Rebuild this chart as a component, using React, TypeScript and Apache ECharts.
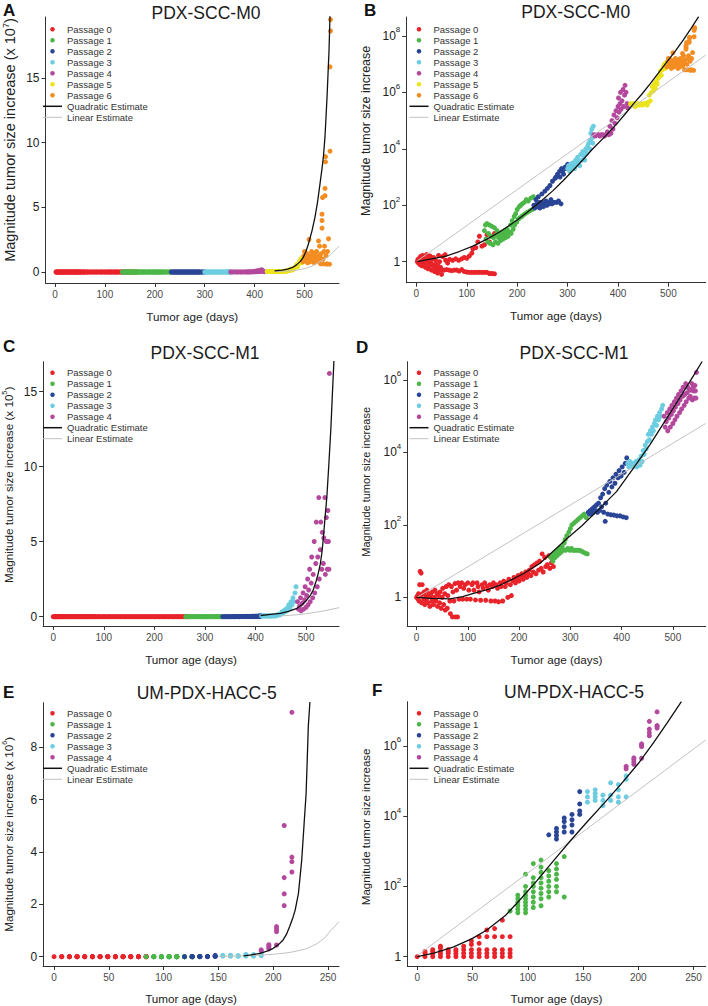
import React, { useEffect, useRef } from 'react';
import * as echarts from 'echarts';

const FONT = '"Liberation Sans", Arial, Helvetica, sans-serif';
const PASSAGE_COLORS = ['#e8232a', '#4cb748', '#2b4596', '#6ccde0', '#b4489c', '#ece41c', '#f38d22'];
const QUAD_COLOR = '#111111';
const LIN_COLOR = '#c2c2c2';

// ---- tick labels ----
const xTicksLong = [0, 100, 200, 300, 400, 500];
const xTicksShort = [0, 50, 100, 150, 200, 250];
const yTicksA = [0, 5, 10, 15];
const yTicksC = [0, 5, 10, 15];
const yTicksE = [0, 2, 4, 6, 8];
const yTicksB = [0, 2, 4, 6, 8];
const yTicksD = [0, 2, 4, 6];
const yTicksF = [0, 2, 4, 6];

// ---- PDX-SCC-M0 : [day, log10(magnitude)] ----
const m0P0 = [[2,0],[3,0.08],[4,-0.05],[6,0.12],[7,-0.1],[8,0.18],[10,0.02],[11,-0.15],[12,0.22],[14,-0.02],[15,-0.12],[16,0.1],[18,-0.2],[19,0.05],[20,0.25],[22,-0.05],[23,-0.25],[24,0.12],[26,-0.15],[27,0.2],[28,0],[30,-0.3],[31,0.1],[32,-0.1],[34,0.15],[35,-0.2],[36,-0.35],[38,0.05],[39,-0.1],[40,-0.25],[42,-0.4],[43,-0.15],[44,0.22],[45,-0.3],[46,0],[48,-0.2],[50,-0.45],[51,-0.3],[52,0.18],[55,-0.3],[57,0.25],[58,0.05],[60,-0.28],[62,-0.05],[65,-0.3],[66,0.08],[70,-0.32],[72,0.05],[75,-0.3],[78,0.1],[80,-0.3],[84,0.05],[85,-0.33],[90,0.1],[90,-0.28],[95,0.15],[95,-0.35],[100,0.12],[100,-0.37],[105,0.2],[105,-0.38],[110,0.3],[110,-0.38],[112,0.45],[115,-0.38],[118,0.5],[120,-0.38],[122,0.7],[125,0.9],[125,-0.38],[130,0.55],[130,-0.38],[135,0.6],[135,-0.38],[140,0.95],[140,-0.38],[145,0.7],[145,-0.42],[150,0.9],[150,-0.42],[155,1.0],[155,-0.43],[160,1.05],[165,1.0]];
const m0P1 = [[135,1.1],[137,1.3],[138,0.8],[140,1.35],[142,0.7],[143,1.0],[145,1.3],[146,0.65],[148,0.9],[150,1.25],[152,0.6],[153,0.85],[155,1.2],[157,0.7],[158,0.95],[160,1.1],[162,0.65],[163,0.85],[165,1.0],[167,0.75],[168,0.9],[170,1.05],[172,0.8],[174,0.95],[175,1.1],[177,0.85],[179,1.0],[180,1.15],[182,0.9],[185,1.05],[187,1.3],[188,1.0],[190,1.45],[192,1.15],[194,1.6],[195,1.3],[197,1.7],[199,1.4],[200,1.85],[202,1.5],[204,1.95],[205,1.55],[207,2.0],[209,1.6],[210,2.05],[212,1.65],[214,2.1],[216,1.7],[218,2.2],[220,1.75],[222,2.15],[225,1.8],[227,2.25],[230,1.85],[232,2.3]];
const m0P2 = [[233,2.0],[235,1.9],[237,2.2],[239,2.05],[240,1.95],[242,2.3],[244,2.1],[245,1.9],[247,2.0],[249,2.4],[250,2.1],[252,1.95],[254,2.05],[255,2.5],[257,2.15],[259,2.0],[260,2.6],[262,2.1],[264,2.05],[265,2.7],[267,2.2],[269,2.05],[270,2.85],[272,2.1],[274,2.1],[275,2.95],[277,3.0],[279,2.1],[280,3.1],[282,2.15],[284,3.2],[285,3.0],[287,2.05],[288,3.3],[290,3.2],[292,3.1],[295,3.35],[297,3.3],[300,3.45]];
const m0P3 = [[300,3.3],[302,3.4],[304,3.2],[306,3.45],[308,3.3],[310,3.5],[312,3.4],[314,3.3],[316,3.6],[318,3.45],[320,3.7],[322,3.55],[324,3.4],[326,3.8],[328,3.6],[330,3.9],[332,3.75],[334,3.6],[336,4.0],[338,3.85],[340,4.1],[342,4.2],[344,4.0],[345,4.3],[346,4.55],[348,4.7],[349,4.4],[350,4.2],[351,4.8]];
const m0P4 = [[352,4.5],[355,4.45],[358,4.5],[361,4.5],[364,4.45],[367,4.5],[370,4.5],[373,4.45],[376,4.5],[379,4.6],[382,4.5],[384,4.8],[386,4.55],[388,5.0],[390,4.7],[392,5.2],[394,4.9],[396,5.35],[398,5.1],[400,5.5],[401,5.8],[402,5.3],[404,5.6],[405,6.0],[406,5.4],[408,5.7],[410,6.1],[411,5.5],[413,5.9],[414,6.25],[416,6.0],[418,5.6],[419,5.45]];
const m0P5 = [[425,5.6],[428,5.55],[431,5.6],[434,5.5],[437,5.55],[440,5.6],[443,5.55],[446,5.6],[449,5.55],[452,5.6],[455,5.6],[458,5.55],[460,5.65],[462,5.9],[464,5.7],[466,6.0],[468,6.2],[470,6.05],[472,6.3],[474,6.15],[476,6.4],[478,6.3],[480,6.5],[482,6.6],[484,6.75],[486,6.6],[488,6.8],[490,6.9],[492,7.0],[494,6.85],[496,7.05]];
const m0P6 = [[497,6.9],[499,7.1],[500,7.2],[502,6.95],[503,7.05],[505,7.15],[506,6.85],[508,7.0],[509,7.4],[510,7.1],[511,6.9],[512,7.05],[514,7.2],[515,6.95],[516,7.1],[518,7.0],[519,6.85],[520,7.15],[521,7.05],[523,6.9],[524,7.2],[525,7.0],[527,7.1],[528,7.38],[529,6.95],[530,7.3],[531,7.05],[532,6.8],[533,7.15],[535,7.53],[535,7.6],[535,7.65],[536,7.76],[537,7.0],[538,6.8],[539,7.2],[540,7.3],[541,7.77],[541,7.81],[542,7.93],[542,7.95],[543,7.1],[544,6.78],[545,6.8],[546,7.2],[548,7.41],[550,6.78],[551,7.97],[551,8.2],[552,8.27],[552,8.29]];

// ---- PDX-SCC-M1 ----
const m1P0 = [[0,0],[2,0.05],[3,-0.05],[4,0.1],[5,-0.1],[6,0.35],[7,0.72],[8,0.05],[9,0.67],[10,-0.15],[11,0.35],[12,0.1],[14,-0.05],[15,0.15],[16,-0.2],[18,0.05],[19,-0.1],[20,0.2],[22,0],[23,-0.15],[25,0.1],[26,-0.25],[28,0.05],[30,-0.1],[31,0.15],[33,-0.2],[35,0],[36,0.2],[38,-0.1],[40,0.1],[41,-0.25],[43,0.05],[45,-0.15],[46,0.15],[48,-0.3],[50,0],[51,0.25],[53,-0.2],[55,0.1],[56,-0.35],[58,0.3],[60,-0.3],[61,0.05],[63,0.35],[65,-0.1],[66,-0.45],[68,0.3],[70,-0.54],[71,0.15],[73,-0.1],[75,0.38],[76,-0.54],[78,0.2],[80,-0.54],[81,0.4],[83,-0.05],[85,0.3],[88,0.4],[90,-0.05],[92,0.25],[95,0.35],[98,-0.05],[100,0.4],[102,0.2],[105,-0.05],[108,0.35],[110,0.4],[112,0.2],[115,-0.07],[118,0.4],[120,0.3],[122,0.15],[125,-0.08],[128,0.35],[130,0.25],[133,0.4],[135,-0.08],[138,0.3],[140,0.2],[143,0.35],[145,-0.1],[148,0.3],[150,0.4],[153,-0.1],[155,0.35],[158,0.25],[160,-0.12],[163,0.4],[165,0.3],[168,-0.1],[170,0.45],[173,0.3],[175,0.4],[178,0],[180,0.5],[183,0.35],[185,0.05],[188,0.45],[190,0.55],[193,0.4],[195,0.5],[198,0.6],[200,0.45],[203,0.55],[205,0.65],[208,0.5],[210,0.6],[213,0.7],[215,0.55],[218,0.65],[220,0.75],[223,0.6],[225,0.85],[228,0.7],[230,0.9],[233,0.65],[235,0.95],[238,0.75],[240,1.0],[243,0.8],[245,1.2],[247,0.7],[250,1.1],[252,0.85],[255,0.9],[258,1.15],[260,0.8],[263,0.95],[265,1.05],[267,0.85]];
const m1P1 = [[262,1.1],[264,1.15],[266,1.0],[268,1.2],[270,1.1],[272,1.25],[274,1.15],[276,1.3],[278,1.2],[280,1.35],[282,1.25],[284,1.4],[286,1.3],[288,1.5],[290,1.6],[291,1.3],[293,1.7],[295,1.35],[297,1.8],[299,1.3],[300,1.9],[302,1.35],[303,2.0],[305,1.3],[307,2.05],[309,1.3],[311,2.1],[313,1.3],[315,2.15],[317,1.3],[319,2.2],[321,1.28],[323,2.25],[325,1.25],[327,2.3],[329,1.22],[331,2.2],[333,1.2]];
const m1P2 = [[335,2.35],[337,2.3],[339,2.4],[341,2.3],[343,2.45],[345,2.35],[347,2.5],[349,2.4],[351,2.55],[353,2.35],[355,2.6],[357,2.4],[359,2.75],[361,2.5],[363,2.85],[365,2.35],[367,3.0],[368,2.1],[369,2.6],[371,3.1],[373,2.3],[375,2.9],[377,3.2],[379,2.28],[381,3.05],[383,3.3],[385,2.27],[387,3.15],[389,3.4],[391,2.25],[393,3.3],[395,3.5],[397,2.25],[399,3.35],[401,3.6],[403,2.22],[405,3.45],[407,3.7],[409,2.2],[410,3.85]];
const m1P3 = [[412,3.7],[414,3.6],[416,3.75],[418,3.65],[420,3.7],[422,3.6],[424,3.7],[426,3.65],[428,3.75],[430,3.6],[432,3.7],[434,3.8],[436,3.65],[438,3.9],[440,3.75],[442,4.05],[444,3.95],[446,4.2],[448,4.1],[450,4.3],[452,4.5],[454,4.35],[456,4.6],[458,4.5],[460,4.7],[462,4.6],[464,4.8],[466,4.9],[468,4.75],[470,5.0],[472,4.9],[474,5.1],[476,5.0],[478,5.2],[480,5.3]];
const m1P4 = [[483,5.0],[485,4.7],[487,4.85],[489,5.1],[490,4.6],[492,4.95],[494,5.2],[495,4.7],[497,5.05],[498,5.3],[500,4.8],[501,5.15],[503,5.4],[504,4.9],[505,5.25],[507,5.5],[508,5.0],[510,5.35],[511,5.6],[513,5.1],[514,5.45],[516,5.7],[517,5.2],[519,5.55],[520,5.8],[522,5.3],[523,5.6],[525,5.9],[526,5.4],[528,5.65],[529,5.8],[531,5.5],[532,5.75],[534,5.55],[535,5.72],[537,5.9],[538,5.45],[540,5.7],[540,5.82],[542,5.5],[543,5.85],[544,5.7],[545,5.5],[546,6.21]];

// ---- UM-PDX-HACC-5 ----
const h5P0 = [[0,0],[7,0],[7,0.1],[7,0.15],[14,0],[14,0.08],[14,0.15],[14,0.2],[21,0],[21,0.08],[21,0.15],[21,0.25],[21,0.3],[28,0],[28,0.1],[28,0.15],[28,0.2],[35,0],[35,0.08],[35,0.15],[35,0.2],[42,0],[42,0.1],[42,0.2],[42,0.3],[49,0],[49,0.1],[49,0.2],[49,0.35],[49,0.45],[56,0],[56,0.1],[56,0.2],[56,0.38],[56,0.57],[63,0],[63,0.1],[63,0.2],[63,0.57],[63,0.76],[70,0],[70,0.1],[70,0.2],[70,0.57],[70,0.8],[77,0],[77,0.1],[77,0.2],[77,0.57],[77,1.04],[84,0],[84,0.1],[84,0.2],[84,0.57]];
const h5P1 = [[84,1.3],[91,1.25],[91,1.35],[91,1.45],[91,1.55],[91,1.65],[91,1.75],[98,1.25],[98,1.35],[98,1.45],[98,1.55],[98,1.65],[98,1.75],[98,1.85],[98,2.0],[98,2.35],[105,1.4],[105,1.55],[105,1.7],[105,1.85],[105,2.0],[105,2.1],[105,2.25],[105,2.65],[112,1.45],[112,1.65],[112,1.8],[112,1.95],[112,2.1],[112,2.25],[112,2.4],[112,2.55],[112,2.75],[119,1.7],[119,1.85],[119,2.0],[119,2.15],[119,2.3],[119,2.45],[126,1.85],[126,2.0],[126,2.2],[126,2.35],[126,2.5],[126,2.65],[133,1.7],[133,2.85]];
const h5P2 = [[119,3.47],[126,3.35],[126,3.45],[126,3.55],[126,3.65],[133,3.55],[133,3.7],[133,3.85],[133,3.95],[140,3.55],[140,3.75],[140,3.9],[140,4.05],[147,4.05],[147,4.15],[147,4.35],[147,4.7]];
const h5P3 = [[154,4.4],[154,4.55],[154,4.7],[161,4.45],[161,4.55],[161,4.65],[161,4.75],[168,4.3],[168,4.45],[168,4.6],[175,4.45],[175,4.6],[175,4.95],[182,4.4],[182,4.55],[182,4.75],[182,4.9],[189,4.55],[189,5.05],[189,5.15]];
const h5P4 = [[189,5.35],[189,5.42],[196,5.48],[196,5.55],[196,5.62],[196,5.66],[203,5.65],[203,5.98],[203,6.02],[203,6.06],[210,6.29],[210,6.38],[210,6.48],[210,6.7],[217,6.51],[217,6.56],[217,6.58],[217,6.97]];

// ---- estimate curves ----
const quadA = [[440,0.08],[455,0.15],[466,0.22],[476,0.35],[484,0.55],[491,0.8],[497,1.1],[503,1.6],[508,2.2],[515,3.2],[521,4.26],[526,5.4],[531,6.83],[535,8.0],[538,9.0],[541,10.5],[543,12.0],[545,13.5],[547,15.3],[549,17.1],[551,19.9]];
const linA = [[440,0.03],[470,0.08],[485,0.15],[500,0.25],[515,0.45],[524,0.66],[535,0.9],[545,1.12],[551,1.3],[560,1.65],[569,2.0]];
const quadB = [[2,0],[25,0.08],[59,0.2],[85,0.36],[112,0.55],[140,0.8],[165,1.05],[198,1.45],[220,1.75],[244,2.1],[270,2.5],[290,2.85],[310,3.22],[331,3.62],[350,4.0],[375,4.45],[398,4.89],[415,5.25],[431,5.6],[448,5.95],[464,6.31],[480,6.68],[497,7.08],[514,7.47],[530,7.87],[545,8.27],[560,8.68]];
const linB = [[2,0.03],[574,7.32]];
const quadC = [[410,0.08],[430,0.15],[449,0.22],[465,0.35],[482,0.56],[492,0.8],[501,1.1],[508,1.4],[514,1.78],[520,2.4],[524,2.89],[528,3.5],[531,4.22],[534,5.2],[537,6.45],[541,8.0],[545,10.2],[549,12.6],[552,14.9],[555,17.1]];
const linC = [[450,0.05],[480,0.12],[500,0.2],[520,0.3],[540,0.42],[565,0.6]];
const quadD = [[0,0],[30,-0.03],[65,-0.04],[90,0.02],[111,0.11],[140,0.22],[163,0.34],[190,0.52],[209,0.66],[241,0.94],[267,1.28],[293,1.62],[322,1.97],[357,2.45],[390,2.92],[422,3.55],[455,4.21],[488,4.94],[520,5.66],[546,6.25],[557,6.51]];
const linD = [[1,0],[564,4.8]];
const quadE = [[173,0.03],[180,0.07],[188,0.13],[195,0.22],[200,0.32],[205,0.47],[209,0.64],[212,0.85],[215,1.15],[218,1.5],[220,1.78],[223,2.42],[226,3.7],[228,4.97],[230,6.24],[231,7.5],[232,8.8],[233.5,9.75]];
const linE = [[150,0.01],[180,0.04],[200,0.09],[215,0.16],[230,0.3],[240,0.5],[247,0.72],[252,0.98],[256,1.15],[260,1.34]];
const quadF = [[0,0],[15,0.1],[33,0.28],[50,0.52],[63,0.76],[80,1.18],[93,1.62],[108,2.15],[123,2.72],[138,3.28],[154,3.85],[170,4.4],[184,4.9],[200,5.5],[214,6.1],[226,6.65],[239,7.26]];
const linF = [[0,0.03],[261,6.17]];

const m0 = [m0P0, m0P1, m0P2, m0P3, m0P4, m0P5, m0P6];
const m1 = [m1P0, m1P1, m1P2, m1P3, m1P4];
const h5 = [h5P0, h5P1, h5P2, h5P3, h5P4];

const panels = [
  { id: 'A', title: 'PDX-SCC-M0', log: false, scale: 1e7, exp: '7', data: m0, quad: quadA, lin: linA,
    grid: { left: 42, top: 17, width: 297, height: 266 }, x: [-19, 569], xTicks: xTicksLong, y: [-0.85, 19.7], yTicks: yTicksA,
    legendLeft: 43, legendTop: 24.3, nameSize: 14.5, nameGap: 26, namePad: 20, xNameGap: 27,
    titleX: 206, titleY: 12.5, letterX: 3, letterY: 10 },
  { id: 'B', title: 'PDX-SCC-M0', log: true, scale: 1, exp: '', data: m0, quad: quadB, lin: linB,
    grid: { left: 406.3, top: 17, width: 299.4, height: 265.7 }, x: [-20, 574], xTicks: xTicksLong, y: [-0.745, 8.67], yTicks: yTicksB,
    legendLeft: 409.5, legendTop: 24.3, nameSize: 12.5, nameGap: 34, namePad: 38, xNameGap: 27,
    titleX: 575.7, titleY: 12, letterX: 364, letterY: 10 },
  { id: 'C', title: 'PDX-SCC-M1', log: false, scale: 1e5, exp: '5', data: m1, quad: quadC, lin: linC,
    grid: { left: 41, top: 361.7, width: 298, height: 264.3 }, x: [-20, 565], xTicks: xTicksLong, y: [-0.62, 17.0], yTicks: yTicksC,
    legendLeft: 43, legendTop: 367.7, nameSize: 11.7, nameGap: 26.4, namePad: 18, xNameGap: 27,
    titleX: 205, titleY: 352.7, letterX: 3, letterY: 346 },
  { id: 'D', title: 'PDX-SCC-M1', log: true, scale: 1, exp: '', data: m1, quad: quadD, lin: linD,
    grid: { left: 407.3, top: 361.7, width: 298.4, height: 264.3 }, x: [-18, 564], xTicks: xTicksLong, y: [-0.79, 6.505], yTicks: yTicksD,
    legendLeft: 409.5, legendTop: 367.7, nameSize: 11, nameGap: 36, namePad: 24, xNameGap: 27,
    titleX: 574, titleY: 352.7, letterX: 356, letterY: 347 },
  { id: 'E', title: 'UM-PDX-HACC-5', log: false, scale: 1e6, exp: '6', data: h5, quad: quadE, lin: linE,
    grid: { left: 41, top: 702.7, width: 298, height: 263.3 }, x: [-10, 260], xTicks: xTicksShort, y: [-0.355, 9.7], yTicks: yTicksE,
    legendLeft: 43, legendTop: 708.3, nameSize: 11.6, nameGap: 26.5, namePad: 0, xNameGap: 26,
    titleX: 206.7, titleY: 693.3, letterX: 3, letterY: 692 },
  { id: 'F', title: 'UM-PDX-HACC-5', log: true, scale: 1, exp: '', data: h5, quad: quadF, lin: linF,
    grid: { left: 407.3, top: 701.7, width: 298.4, height: 264.3 }, x: [-9, 261], xTicks: xTicksShort, y: [-0.265, 7.26], yTicks: yTicksF,
    legendLeft: 409.5, legendTop: 708.3, nameSize: 11.5, nameGap: 35.8, namePad: 14, xNameGap: 26,
    titleX: 574, titleY: 691.7, letterX: 372, letterY: 690 },
];

function buildOption() {
  const grid: any[] = [];
  const xAxis: any[] = [];
  const yAxis: any[] = [];
  const series: any[] = [];
  const legend: any[] = [];
  const graphic: any[] = [];

  panels.forEach((p, i) => {
    grid.push({ ...p.grid, containLabel: false });
    xAxis.push({
      type: 'value', gridIndex: i, min: p.x[0], max: p.x[1],
      axisLine: { show: true, onZero: false, lineStyle: { color: '#333', width: 1 } },
      axisTick: { show: true, length: 4, customValues: p.xTicks, lineStyle: { color: '#333' } },
      axisLabel: { customValues: p.xTicks, fontSize: 10, color: '#4a4a4a', margin: 6, fontFamily: FONT },
      splitLine: { show: false },
      name: 'Tumor age (days)', nameLocation: 'middle', nameGap: p.xNameGap, nameMoveOverlap: false,
      nameTextStyle: { fontSize: 11.7, color: '#222', fontFamily: FONT },
    });
    const supSize = Math.round(p.nameSize * 0.62 * 10) / 10;
    yAxis.push({
      type: 'value', gridIndex: i, min: p.y[0], max: p.y[1],
      axisLine: { show: true, onZero: false, lineStyle: { color: '#333', width: 1 } },
      axisTick: { show: true, length: 4, customValues: p.yTicks, lineStyle: { color: '#333' } },
      axisLabel: {
        customValues: p.yTicks, fontSize: 12, color: '#222', margin: 6, fontFamily: FONT,
        padding: p.log ? [0, 0, 4, 0] : 0,
        formatter: p.log ? (v: number) => (v === 0 ? '{b|1}' : `{b|10}{s|${v}}`) : (v: number) => String(v),
        rich: {
          b: { fontSize: 12, lineHeight: 16, verticalAlign: 'bottom', color: '#222', fontFamily: FONT },
          s: { fontSize: 8, lineHeight: 8, verticalAlign: 'top', color: '#222', fontFamily: FONT },
        },
      },
      splitLine: { show: false },
      name: p.log ? 'Magnitude tumor size increase' : `Magnitude tumor size increase (x 10{s|${p.exp}})`,
      nameLocation: 'middle', nameGap: p.nameGap, nameMoveOverlap: false,
      nameTextStyle: {
        fontSize: p.nameSize, color: '#222', fontFamily: FONT,
        lineHeight: p.log ? undefined : p.nameSize + 4,
        padding: [0, 0, 0, p.namePad],
        rich: { s: { fontSize: supSize, lineHeight: supSize, verticalAlign: 'top', color: '#222', fontFamily: FONT } },
      },
    });

    p.data.forEach((pts, k) => {
      series.push({
        type: 'scatter', name: `Passage ${k}#${p.id}`, xAxisIndex: i, yAxisIndex: i,
        symbol: 'circle', symbolSize: 5, silent: true, z: 2,
        itemStyle: { color: PASSAGE_COLORS[k], opacity: 1 },
        data: pts.map(([d, l]) => [d, p.log ? l : Math.pow(10, l) / p.scale]),
      });
    });
    series.push({
      type: 'line', name: `Linear Estimate#${p.id}`, xAxisIndex: i, yAxisIndex: i,
      symbol: 'none', showSymbol: false, silent: true, z: 3, clip: true,
      itemStyle: { color: LIN_COLOR }, lineStyle: { color: LIN_COLOR, width: 1 },
      data: p.lin,
    });
    series.push({
      type: 'line', name: `Quadratic Estimate#${p.id}`, xAxisIndex: i, yAxisIndex: i,
      symbol: 'none', showSymbol: false, silent: true, z: 4, clip: true,
      itemStyle: { color: QUAD_COLOR }, lineStyle: { color: QUAD_COLOR, width: 1.3 },
      data: p.quad,
    });

    legend.push({
      orient: 'vertical', left: p.legendLeft, top: p.legendTop, padding: 0,
      itemGap: 1, itemWidth: 19, itemHeight: 4.5, selectedMode: false,
      textStyle: { fontSize: 9.5, lineHeight: 10, color: '#333', fontFamily: FONT },
      formatter: (n: string) => n.split('#')[0],
      data: [
        ...p.data.map((_, k) => ({ name: `Passage ${k}#${p.id}`, icon: 'circle' })),
        { name: `Quadratic Estimate#${p.id}`, icon: 'path://M0,0L19,0L19,1.5L0,1.5Z', itemStyle: { color: QUAD_COLOR, borderWidth: 0 } },
        { name: `Linear Estimate#${p.id}`, icon: 'path://M0,0L19,0L19,1L0,1Z', itemStyle: { color: LIN_COLOR, borderWidth: 0 } },
      ],
    });

    graphic.push({
      type: 'text', x: p.titleX, y: p.titleY, silent: true,
      style: { text: p.title, fontSize: 17.5, fontFamily: FONT, fill: '#1a1a1a', align: 'center', verticalAlign: 'middle' },
    });
    graphic.push({
      type: 'text', x: p.letterX, y: p.letterY, silent: true,
      style: { text: p.id, fontSize: 17, fontWeight: 'bold', fontFamily: FONT, fill: '#111', align: 'left', verticalAlign: 'middle' },
    });
  });

  return {
    animation: false,
    backgroundColor: '#ffffff',
    textStyle: { fontFamily: FONT },
    grid, xAxis, yAxis, series, legend, graphic,
  };
}

export default function App() {
  const ref = useRef<HTMLDivElement>(null);
  useEffect(() => {
    document.body.style.margin = '0';
    if (!ref.current) return;
    const chart = echarts.init(ref.current, null, { renderer: 'svg' });
    chart.setOption(buildOption() as any);
    return () => chart.dispose();
  }, []);
  return <div ref={ref} style={{ width: 708, height: 1006, position: 'absolute', left: 0, top: 0 }} />;
}
